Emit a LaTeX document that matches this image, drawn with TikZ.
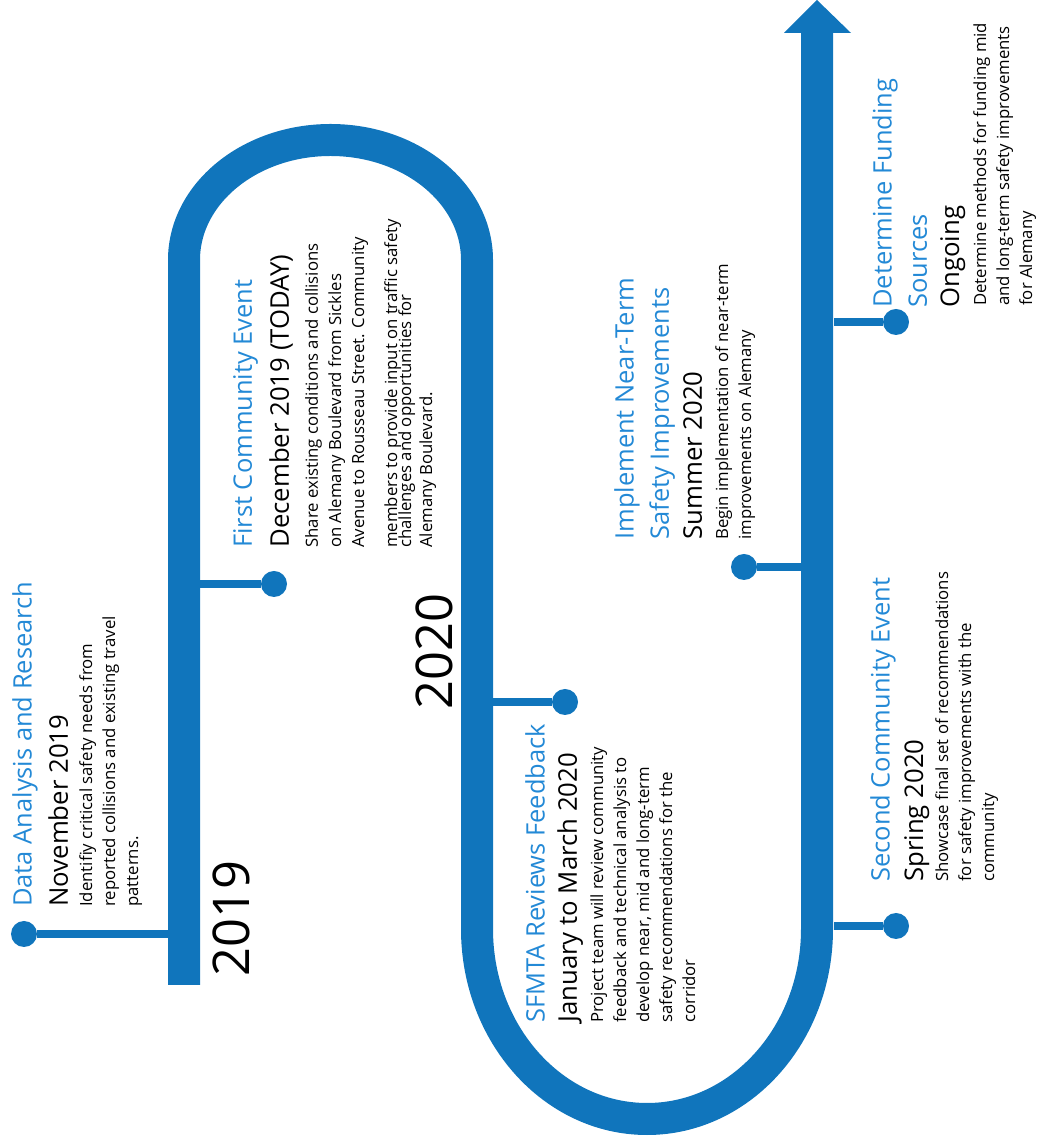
\documentclass[tikz,border=0pt]{standalone}
\usepackage{fontspec}
\setmainfont{Open Sans}
\definecolor{roadblue}{RGB}{16,117,188}
\definecolor{titleblue}{RGB}{35,137,214}

\begin{document}
\begin{tikzpicture}[x=0.25mm, y=0.25mm,
  road/.style={line width=8mm, draw=roadblue},
  branch/.style={line width=2mm, draw=roadblue},
  stop/.style={circle, fill=roadblue, minimum size=6.5mm, inner sep=0pt},
  sideways/.style={rotate=90, anchor=north west, inner sep=0pt, align=left},
  evttitle/.style={sideways, text=titleblue, font=\fontsize{18.1}{25}\selectfont},
  evtdate/.style={sideways, font=\fontsize{18.3}{22}\selectfont},
  evttext/.style={sideways, font=\fontsize{11.9}{16.4}\selectfont},
  yearmark/.style={sideways, font=\fontsize{36}{40}\selectfont}]

\useasboundingbox (0,0) rectangle (1038,1146);

% the road
\draw[road] (184,161) -- (184,886)
  arc[start angle=180, end angle=0, x radius=146.5, y radius=120] -- (477,217)
  arc[start angle=180, end angle=360, x radius=170, y radius=190] -- (817,1113);
\fill[roadblue] (784,1113) -- (851,1113) -- (817,1146) -- cycle;

% stops along the road
\coordinate (b1) at (168,212);
\coordinate (b2) at (200,562);
\coordinate (b3) at (493,444);
\coordinate (b4) at (801,579);
\coordinate (b5) at (834,824);
\coordinate (b6) at (834,220);
\node[stop] (s1) at (24,212) {};
\node[stop] (s2) at (274,562) {};
\node[stop] (s3) at (565,444) {};
\node[stop] (s4) at (744,579) {};
\node[stop] (s5) at (896,824) {};
\node[stop] (s6) at (896,220) {};
\draw[branch] (b1) -- (s1);
\draw[branch] (b2) -- (s2);
\draw[branch] (b3) -- (s3);
\draw[branch] (b4) -- (s4);
\draw[branch] (b5) -- (s5);
\draw[branch] (b6) -- (s6);

% years
\node[yearmark] (y2019) at (213,169) {2019};
\node[yearmark] (y2020) at (416,436) {2020};

% events
\node[evttitle] (t1) at (12,239) {Data Analysis and Research};
\node[evtdate] (w1) at (48,239) {November 2019};
\node[evttext] (x1) at (79,239) {Identifiy critical safety needs from\\reported collisions and existing travel\\patterns.};

\node[evttitle] (t2) at (233,598) {First Community Event};
\node[evtdate] (w2) at (269,598) {December 2019 (TODAY)};
\node[evttext] (x2) at (305,598) {Share existing conditions and collisions\\on Alemany Boulevard from Sickles\\Avenue to Rousseau Street. Community\\[7pt]members to provide input on traffic safety\\[-6.4pt]challenges and opportunities for\\[-1.4pt]Alemany Boulevard.};

\node[evttitle] (t3) at (525,123) {SFMTA Reviews Feedback};
\node[evtdate] (w3) at (557,123) {January to March 2020};
\node[evttext] (x3) at (590,123) {Project team will review community\\feedback and technical analysis to\\develop near, mid and long-term\\safety recommendations for the\\corridor};

\node[evttitle] (t4) at (614,606) {Implement Near-Term\\Safety Improvements};
\node[evtdate] (w4) at (683,606) {Summer 2020};
\node[evttext] (x4) at (715,606) {Begin implementation of near-term\\improvements on Alemany};

\node[evttitle] (t5) at (872,838) {Determine Funding\\Sources};
\node[evtdate] (w5) at (940,838) {Ongoing};
\node[evttext] (x5) at (973,840) {Determine methods for funding mid\\and long-term safety improvements\\for Alemany};

\node[evttitle] (t6) at (870,264) {Second Community Event};
\node[evtdate] (w6) at (904,264) {Spring 2020};
\node[evttext] (x6) at (935,264) {Showcase final set of recommendations\\for safety improvements with the\\community};
\end{tikzpicture}
\end{document}
